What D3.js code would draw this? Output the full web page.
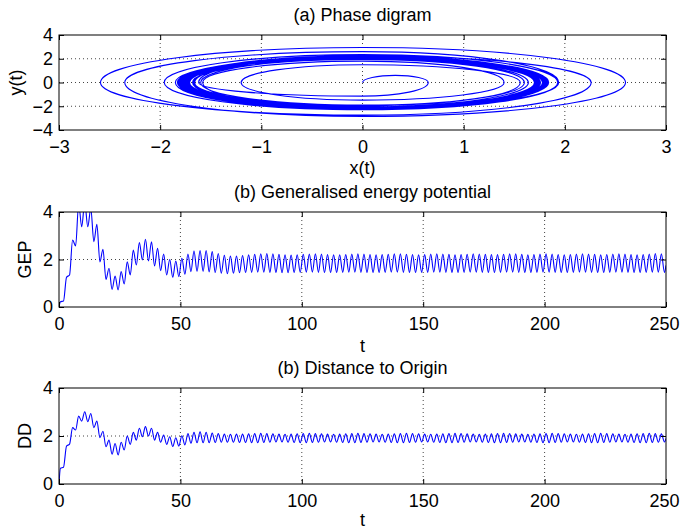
<!DOCTYPE html>
<html>
<head>
<meta charset="utf-8">
<script src="https://cdn.jsdelivr.net/npm/d3@7"></script>
<style>
  body { margin: 0; background: #fff; }
  text { font-family: "Liberation Sans", Arial, Helvetica, sans-serif; }
</style>
</head>
<body>
<div id="chart"></div>
<script>

// phase diagram: successive turning points, x at y = 0 and y at x = 0
var phaseXTurns = [0.65, -1.62, 2.26, -2.59, 2.60, -2.35, 1.94, -1.58, 1.40, -1.20,
  1.56, -1.66, 1.83, -1.96, 1.93, -1.85, 1.75, -1.68, 1.60, -1.60,
  1.64, -1.67, 1.70, -1.73, 1.74, -1.75, 1.73, -1.72, 1.72, -1.74,
  1.76, -1.77, 1.80, -1.79, 1.76, -1.73, 1.70, -1.72, 1.76, -1.80,
  1.84, -1.82, 1.78, -1.74, 1.71, -1.75, 1.79, -1.81, 1.82, -1.78,
  1.74, -1.71, 1.72, -1.76, 1.80, -1.83, 1.81, -1.77, 1.74, -1.73];
var phaseYTurns = [0.60, -1.15, 2.25, -2.75, 2.95, -2.85, 2.60, -2.20, 1.80, -1.48,
  1.50, -1.95, 2.10, -2.30, 2.35, -2.30, 2.15, -2.05, 1.95, -1.90,
  2.00, -2.05, 2.10, -2.12, 2.15, -2.13, 2.10, -2.08, 2.07, -2.10,
  2.12, -2.16, 2.20, -2.18, 2.13, -2.08, 2.04, -2.08, 2.14, -2.20,
  2.24, -2.20, 2.14, -2.08, 2.05, -2.11, 2.17, -2.21, 2.22, -2.16,
  2.10, -2.05, 2.07, -2.13, 2.19, -2.23, 2.20, -2.14, 2.10, -2.09];

// time series: both start at 0 for t = 0, then one value per extremum
var tStart = 0.6;   // time of the first extremum
var tStep = 1.25;   // time between extrema
var tEnd = 250;

var gepExtrema = [0.22, 0.25, 1.25, 1.35, 2.82, 2.57, 4.35, 3.38, 4.40, 3.38,
  4.15, 2.75, 3.48, 1.90, 2.43, 1.16, 1.63, 0.74, 1.30, 0.72,
  1.49, 0.97, 1.90, 1.35, 2.40, 1.77, 2.71, 1.98, 2.85, 1.94,
  2.75, 1.73, 2.47, 1.53, 2.23, 1.35, 2.00, 1.25, 1.94, 1.28,
  2.05, 1.38, 2.23, 1.49, 2.36, 1.50, 2.38, 1.50, 2.38, 1.48,
  2.33, 1.45, 2.25, 1.42, 2.18, 1.40, 2.15, 1.42, 2.15, 1.44,
  2.17, 1.45, 2.20, 1.46, 2.22, 1.47, 2.24, 1.47, 2.25, 1.46,
  2.24, 1.45, 2.22, 1.44, 2.20, 1.44, 2.19, 1.45, 2.20, 1.46,
  2.22, 1.47, 2.23, 1.47, 2.24, 1.46, 2.23, 1.45, 2.21, 1.45,
  2.20, 1.45, 2.20, 1.46, 2.21, 1.47, 2.23, 1.47, 2.24, 1.46,
  2.23, 1.45, 2.21, 1.45, 2.20, 1.45, 2.21, 1.46, 2.22, 1.47,
  2.24, 1.47, 2.24, 1.46, 2.22, 1.45, 2.21, 1.45, 2.20, 1.46,
  2.21, 1.46, 2.23, 1.47, 2.24, 1.47, 2.23, 1.46, 2.22, 1.45,
  2.20, 1.45, 2.21, 1.46, 2.22, 1.47, 2.24, 1.47, 2.23, 1.46,
  2.22, 1.45, 2.21, 1.45, 2.21, 1.46, 2.22, 1.47, 2.24, 1.47,
  2.24, 1.46, 2.22, 1.45, 2.20, 1.45, 2.21, 1.46, 2.23, 1.47,
  2.24, 1.47, 2.23, 1.46, 2.21, 1.45, 2.20, 1.45, 2.21, 1.46,
  2.23, 1.47, 2.24, 1.47, 2.23, 1.46, 2.22, 1.45, 2.20, 1.45,
  2.21, 1.46, 2.23, 1.47, 2.24, 1.47, 2.23, 1.46, 2.21, 1.45,
  2.20, 1.45, 2.21, 1.46, 2.23, 1.47, 2.25, 1.47, 2.24, 1.46];
var gepEnd = 1.75;

var ddExtrema = [0.66, 0.70, 1.58, 1.66, 2.35, 2.25, 2.83, 2.62, 3.01, 2.60,
  2.94, 2.35, 2.62, 1.93, 2.20, 1.55, 1.83, 1.24, 1.69, 1.21,
  1.74, 1.42, 2.00, 1.65, 2.15, 1.83, 2.32, 1.97, 2.39, 2.00,
  2.32, 1.83, 2.15, 1.74, 2.04, 1.65, 1.97, 1.56, 1.93, 1.58,
  2.01, 1.63, 2.10, 1.70, 2.15, 1.72, 2.17, 1.72, 2.15, 1.72,
  2.12, 1.73, 2.10, 1.74, 2.08, 1.74, 2.07, 1.74, 2.08, 1.73,
  2.08, 1.73, 2.09, 1.72, 2.10, 1.72, 2.11, 1.73, 2.10, 1.74,
  2.09, 1.75, 2.08, 1.75, 2.07, 1.74, 2.08, 1.73, 2.09, 1.72,
  2.10, 1.72, 2.11, 1.73, 2.10, 1.74, 2.09, 1.75, 2.08, 1.75,
  2.07, 1.74, 2.08, 1.73, 2.09, 1.72, 2.10, 1.72, 2.11, 1.73,
  2.10, 1.74, 2.09, 1.75, 2.08, 1.75, 2.07, 1.74, 2.08, 1.73,
  2.09, 1.72, 2.10, 1.72, 2.11, 1.73, 2.10, 1.74, 2.09, 1.75,
  2.08, 1.75, 2.07, 1.74, 2.08, 1.73, 2.09, 1.72, 2.10, 1.72,
  2.11, 1.73, 2.10, 1.74, 2.09, 1.75, 2.08, 1.75, 2.07, 1.74,
  2.08, 1.73, 2.09, 1.72, 2.10, 1.72, 2.11, 1.73, 2.10, 1.74,
  2.09, 1.75, 2.08, 1.75, 2.07, 1.74, 2.08, 1.73, 2.09, 1.72,
  2.10, 1.72, 2.11, 1.73, 2.10, 1.74, 2.09, 1.75, 2.08, 1.75,
  2.07, 1.74, 2.08, 1.73, 2.09, 1.72, 2.10, 1.72, 2.11, 1.73,
  2.10, 1.74, 2.09, 1.75, 2.08, 1.75, 2.07, 1.74, 2.08, 1.73,
  2.09, 1.72, 2.10, 1.72, 2.11, 1.73, 2.10, 1.74, 2.09, 1.75];
var ddEnd = 1.9;

// ticks
var phaseXTicks = [-3, -2, -1, 0, 1, 2, 3];
var phaseYTicks = [-4, -2, 0, 2, 4];
var timeTicks = [0, 50, 100, 150, 200, 250];
var levelTicks = [0, 2, 4];

// layout
var W = 680, H = 531;
var left = 59, right = 666;
var fontsize = "18px";
var ticklen = 5;
var blue = "#0000ff";
var fmt = d3.format("d");

var svg = d3.select("#chart").append("svg")
  .attr("width", W)
  .attr("height", H);

function panel(opts) {
  var x = d3.scaleLinear().domain(opts.xdomain).range([left, right]);
  var y = d3.scaleLinear().domain(opts.ydomain).range([opts.bottom, opts.top]);
  var g = svg.append("g");

  // dotted grid on the inner ticks
  g.selectAll(".gx")
    .data(opts.xticks.slice(1, -1))
    .enter().append("line")
    .attr("x1", function(d) { return x(d); })
    .attr("x2", function(d) { return x(d); })
    .attr("y1", opts.top).attr("y2", opts.bottom)
    .attr("stroke", "#444").attr("stroke-width", 1)
    .attr("stroke-dasharray", "1,3");
  g.selectAll(".gy")
    .data(opts.yticks.slice(1, -1))
    .enter().append("line")
    .attr("y1", function(d) { return y(d); })
    .attr("y2", function(d) { return y(d); })
    .attr("x1", left).attr("x2", right)
    .attr("stroke", "#444").attr("stroke-width", 1)
    .attr("stroke-dasharray", "1,3");

  // data, clipped to the box
  var clipid = "clip" + opts.id;
  svg.append("clipPath").attr("id", clipid)
    .append("rect")
    .attr("x", left).attr("y", opts.top)
    .attr("width", right - left).attr("height", opts.bottom - opts.top);

  g.append("path")
    .attr("clip-path", "url(#" + clipid + ")")
    .attr("fill", "none")
    .attr("stroke", blue)
    .attr("stroke-width", 1.1)
    .attr("d", opts.path(x, y));

  // ticks pointing inwards on all four sides
  g.append("g").attr("transform", "translate(0," + opts.bottom + ")")
    .call(d3.axisBottom(x).tickValues(opts.xticks).tickSize(-ticklen).tickPadding(10).tickFormat(fmt));
  g.append("g").attr("transform", "translate(0," + opts.top + ")")
    .call(d3.axisTop(x).tickValues(opts.xticks).tickSize(-ticklen).tickFormat(""));
  g.append("g").attr("transform", "translate(" + left + ",0)")
    .call(d3.axisLeft(y).tickValues(opts.yticks).tickSize(-ticklen).tickPadding(6).tickFormat(fmt));
  g.append("g").attr("transform", "translate(" + right + ",0)")
    .call(d3.axisRight(y).tickValues(opts.yticks).tickSize(-ticklen).tickFormat(""));

  g.selectAll(".domain").remove();
  g.selectAll(".tick line").attr("stroke", "#000");
  g.selectAll(".tick text")
    .attr("fill", "#000")
    .style("font-size", fontsize)
    .style("font-family", "'Liberation Sans', Arial, sans-serif");

  // keep the last x label inside the window
  if (opts.xdomain[1] === tEnd) {
    g.selectAll(".tick text")
      .filter(function(d) { return d === tEnd; })
      .attr("dx", -2);
  }

  g.append("rect")
    .attr("x", left).attr("y", opts.top)
    .attr("width", right - left).attr("height", opts.bottom - opts.top)
    .attr("fill", "none").attr("stroke", "#000").attr("stroke-width", 1);

  // labels
  g.append("text")
    .attr("x", (left + right) / 2).attr("y", opts.top - 14)
    .attr("text-anchor", "middle").style("font-size", fontsize)
    .text(opts.title);
  g.append("text")
    .attr("x", (left + right) / 2).attr("y", opts.bottom + opts.xlabeldy)
    .attr("text-anchor", "middle").style("font-size", fontsize)
    .text(opts.xlabel);
  g.append("text")
    .attr("transform", "translate(" + opts.ylabelx + "," + (opts.top + opts.bottom) / 2 + ") rotate(-90)")
    .attr("text-anchor", "middle").style("font-size", fontsize)
    .text(opts.ylabel);
}

// phase path made of quarter ellipses between turning points
function phasepath(x, y) {
  var x0 = x(0), y0 = y(0);
  var xa = x(phaseXTurns[0]);
  var p = "M" + x0 + "," + y0
    + " A" + (Math.abs(xa - x0) / 2) + "," + Math.abs(y(phaseYTurns[0]) - y0) + " 0 0 1 " + xa + "," + y0;
  for (var i = 1; i < phaseXTurns.length; i++) {
    var xp = x(phaseXTurns[i - 1]);
    var yq = y(phaseYTurns[i]);
    var xq = x(phaseXTurns[i]);
    p += " A" + Math.abs(xp - x0) + "," + Math.abs(yq - y0) + " 0 0 1 " + x0 + "," + yq;
    p += " A" + Math.abs(xq - x0) + "," + Math.abs(yq - y0) + " 0 0 1 " + xq + "," + y0;
  }
  return p;
}

function seriespath(values, endvalue) {
  var pts = [[0, 0]];
  values.forEach(function(v, k) { pts.push([tStart + k * tStep, v]); });
  pts.push([tEnd, endvalue]);
  return function(x, y) {
    return d3.line()
      .x(function(d) { return x(d[0]); })
      .y(function(d) { return y(d[1]); })
      .curve(d3.curveMonotoneX)(pts);
  };
}

panel({
  id: "a", top: 35, bottom: 130,
  xdomain: [-3, 3], ydomain: [-4, 4],
  xticks: phaseXTicks, yticks: phaseYTicks,
  title: "(a) Phase digram", xlabel: "x(t)", ylabel: "y(t)",
  xlabeldy: 44, ylabelx: 22,
  path: phasepath
});

panel({
  id: "b", top: 212, bottom: 307,
  xdomain: [0, 250], ydomain: [0, 4],
  xticks: timeTicks, yticks: levelTicks,
  title: "(b) Generalised energy potential", xlabel: "t", ylabel: "GEP",
  xlabeldy: 45, ylabelx: 31,
  path: seriespath(gepExtrema, gepEnd)
});

panel({
  id: "c", top: 388, bottom: 484,
  xdomain: [0, 250], ydomain: [0, 4],
  xticks: timeTicks, yticks: levelTicks,
  title: "(b) Distance to Origin", xlabel: "t", ylabel: "DD",
  xlabeldy: 42, ylabelx: 31,
  path: seriespath(ddExtrema, ddEnd)
});

</script>
</body>
</html>
